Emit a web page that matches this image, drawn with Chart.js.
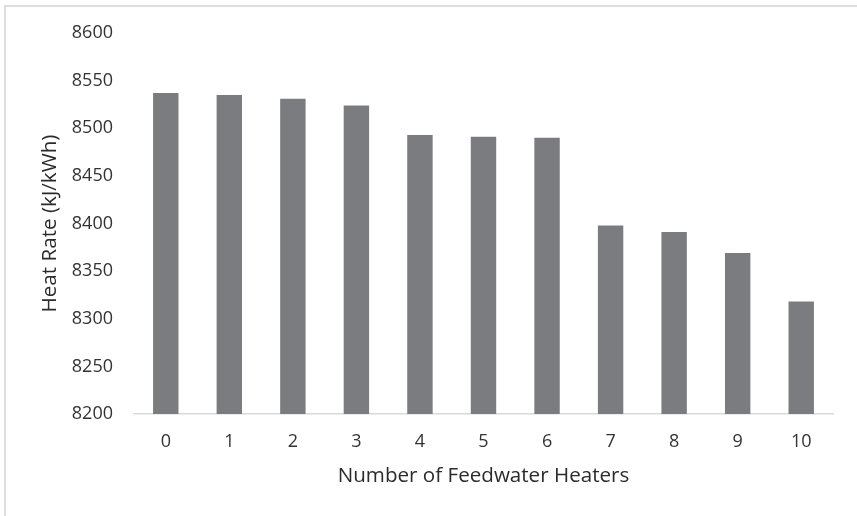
<!DOCTYPE html>
<html>
<head>
<meta charset="utf-8">
<script src="https://cdn.jsdelivr.net/npm/chart.js@4"></script>
<style>
  html, body { margin: 0; padding: 0; background: #ffffff; overflow: hidden; }
  #wrap { position: relative; width: 857px; height: 516px; }
  #frame { position: absolute; left: 4px; top: 5px; width: 900px; height: 600px;
           border-top: 2px solid #dedede; border-left: 2px solid #dedede; box-sizing: border-box; }
  canvas { position: absolute; left: 0; top: 0; }
</style>
</head>
<body>
<div id="wrap">
  <div id="frame"></div>
  <canvas id="c" width="857" height="516"></canvas>
</div>
<script>
const categories = ['0', '1', '2', '3', '4', '5', '6', '7', '8', '9', '10'];
const heatRate = [8537, 8535, 8531, 8524, 8493, 8491, 8490, 8398, 8391, 8369, 8318];
const yMin = 8200;
const yMax = 8600;
const yStep = 50;
const xTitle = 'Number of Feedwater Heaters';
const yTitle = 'Heat Rate (kJ/kWh)';

new Chart(document.getElementById('c'), {
  type: 'bar',
  data: {
    labels: categories,
    datasets: [{
      label: yTitle,
      data: heatRate,
      backgroundColor: '#7b7c7f',
      borderWidth: 0,
      barPercentage: 0.4,
      categoryPercentage: 1.0
    }]
  },
  options: {
    responsive: false,
    animation: false,
    devicePixelRatio: 1,
    layout: { padding: { top: 33, right: 24, bottom: 0, left: 0 } },
    plugins: { legend: { display: false }, tooltip: { enabled: false } },
    scales: {
      x: {
        grid: { display: false, drawTicks: false },
        border: { display: true, color: '#d9d9d9', width: 1.5 },
        ticks: { color: '#333333', padding: 17, font: { family: 'Open Sans', size: 18 } },
        title: { display: true, text: xTitle, color: '#2b2b2b',
                 font: { family: 'Open Sans', size: 20.6 }, padding: { top: 0, bottom: 28 } },
        afterFit: (s) => { s.height = 102; }
      },
      y: {
        min: yMin, max: yMax,
        grid: { display: false, drawTicks: false },
        border: { display: false },
        ticks: { stepSize: yStep, color: '#333333', padding: 21,
                 font: { family: 'Open Sans', size: 18 },
                 callback: (v) => String(v) },
        title: { display: true, text: yTitle, color: '#2b2b2b',
                 font: { family: 'Open Sans', size: 20.6 }, padding: { top: 38, bottom: 0 } },
        afterFit: (s) => { s.width = 134; }
      }
    }
  }
});
</script>
</body>
</html>
